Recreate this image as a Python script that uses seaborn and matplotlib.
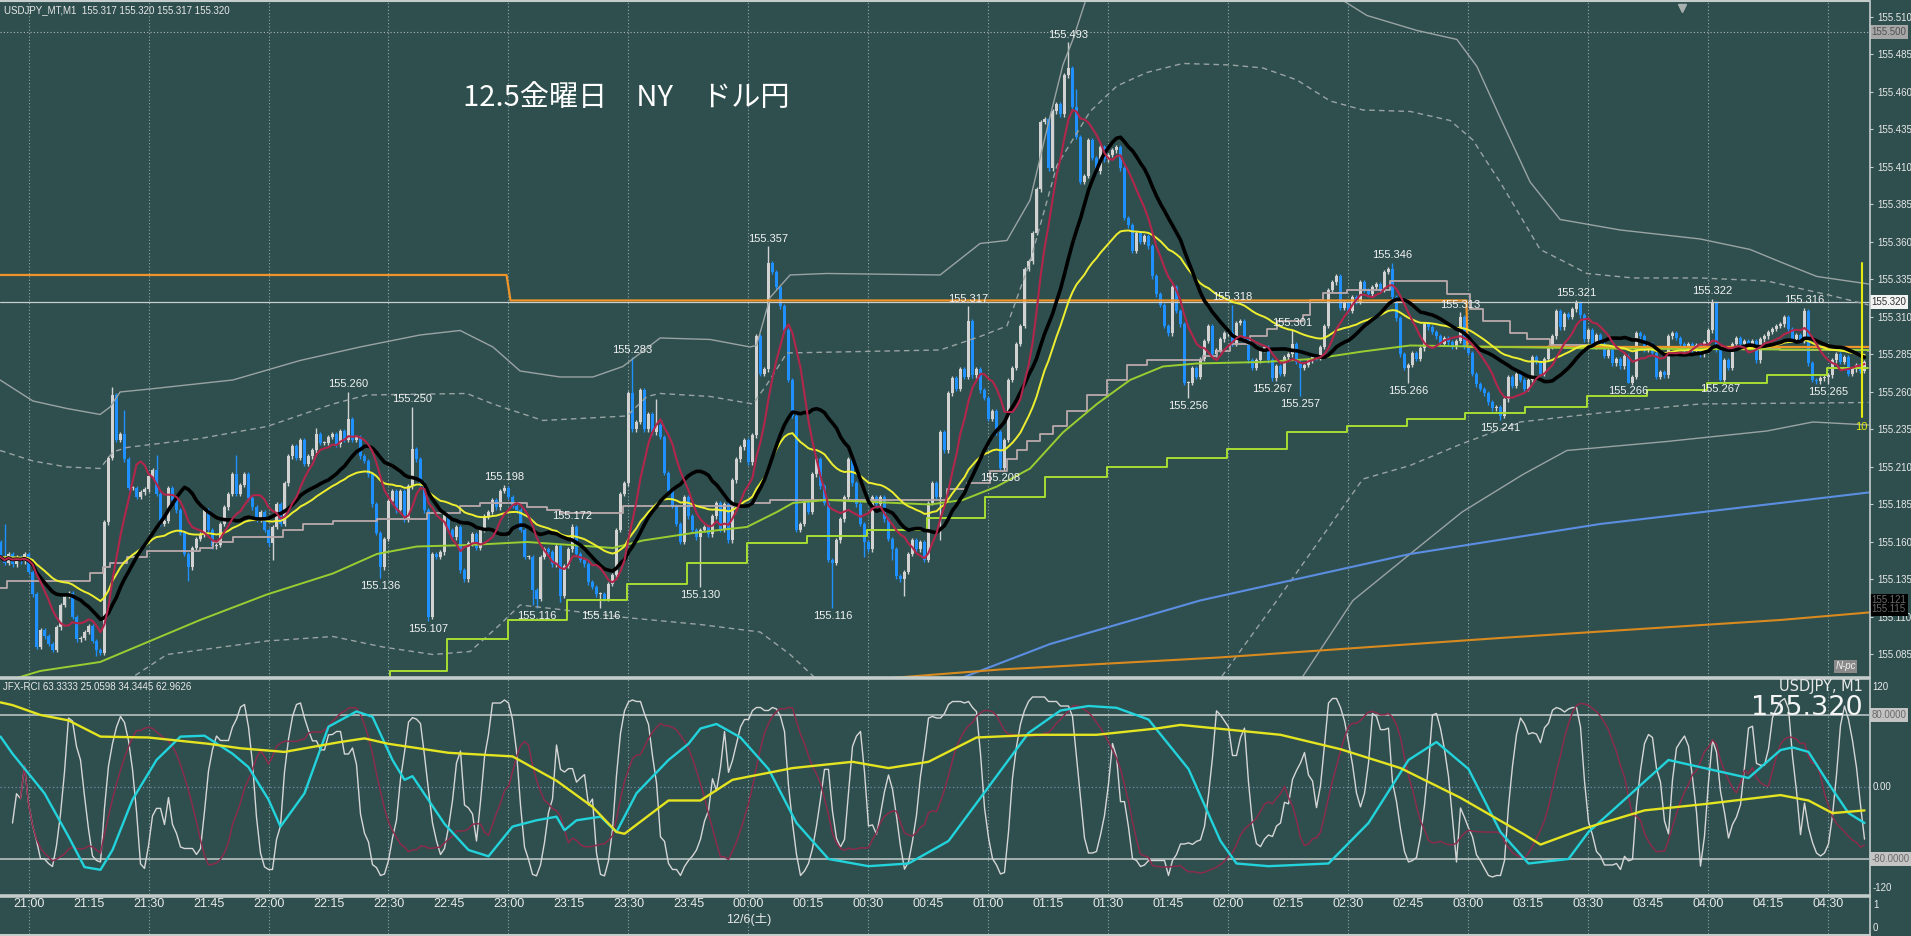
import numpy as np
import pandas as pd
import matplotlib
matplotlib.use("Agg")
import matplotlib.pyplot as plt
import matplotlib.transforms as mtransforms
from matplotlib.lines import Line2D
import seaborn as sns

# ------------------------------------------------------------------ data
# 1-minute bars, minute index relative to 21:00 (first bar 20:53)
first_minute = -7
first_open_k = 160
# closes in thousandths above 155.000
close_k = [
    150, 146, 152, 145, 150, 147, 152,
    140, 125, 90, 101, 97, 92, 88, 103, 118, 124,
    126, 110, 95, 96, 100, 104, 94, 88, 86, 173,
    216, 258, 228, 232, 215, 196, 196, 190, 193, 195,
    204, 208, 192, 172, 174, 196, 188, 181, 166, 152,
    143, 156, 162, 165, 181, 168, 157, 158, 172, 183,
    192, 205, 192, 198, 205, 189, 183, 175, 180, 168,
    159, 170, 185, 172, 199, 217, 224, 216, 228, 212,
    217, 221, 232, 226, 226, 230, 232, 225, 234, 228,
    242, 228, 230, 217, 214, 205, 185, 166, 143, 162,
    187, 194, 181, 194, 175, 197, 222, 215, 199, 181,
    110, 152, 150, 153, 178, 168, 163, 170, 141, 135,
    159, 165, 156, 168, 177, 180, 188, 183, 194, 196,
    190, 184, 181, 168, 150, 150, 128, 122, 150, 155,
    153, 145, 157, 124, 144, 155, 170, 152, 148, 145,
    133, 130, 125, 125, 122, 132, 138, 168, 192, 199,
    259, 235, 240, 261, 235, 245, 233, 238, 230, 206,
    194, 184, 172, 160, 190, 177, 168, 163, 168, 170,
    165, 177, 186, 168, 185, 161, 201, 215, 223, 228,
    213, 231, 297, 272, 275, 346, 340, 330, 317, 301,
    268, 244, 168, 172, 186, 180, 205, 215, 197, 186,
    148, 146, 161, 175, 190, 215, 199, 185, 172, 160,
    155, 190, 185, 190, 175, 162, 155, 137, 135, 140,
    152, 161, 155, 160, 148, 186, 199, 190, 233, 221,
    259, 269, 262, 275, 270, 307, 271, 275, 261, 256,
    242, 247, 233, 209, 228, 268, 276, 292, 304, 342,
    347, 366, 395, 440, 442, 409, 447, 452, 445, 471,
    476, 450, 430, 400, 404, 428, 416, 407, 423, 415,
    418, 421, 423, 409, 376, 371, 354, 366, 360, 364,
    357, 337, 325, 318, 304, 299, 330, 314, 305, 266,
    266, 276, 270, 282, 294, 304, 285, 288, 295, 299,
    300, 292, 306, 307, 295, 281, 276, 281, 288, 290,
    281, 269, 277, 272, 283, 285, 292, 280, 276, 278,
    281, 284, 283, 290, 304, 328, 333, 337, 316, 319,
    314, 323, 320, 333, 328, 325, 330, 332, 328, 340,
    342, 323, 309, 285, 276, 278, 286, 282, 289, 305,
    303, 300, 297, 292, 296, 293, 290, 294, 310, 290,
    286, 272, 265, 262, 259, 253, 249, 250, 244, 255,
    270, 264, 272, 268, 262, 268, 283, 280, 272, 282,
    290, 297, 314, 303, 312, 310, 315, 319, 311, 295,
    301, 290, 298, 292, 284, 288, 279, 282, 277, 284,
    266, 270, 299, 297, 288, 292, 286, 270, 273, 271,
    297, 299, 296, 292, 288, 292, 287, 291, 285, 293,
    301, 319, 288, 268, 281, 276, 292, 296, 292, 294,
    290, 294, 281, 295, 297, 300, 302, 304, 305, 310,
    302, 295, 298, 294, 314, 279, 268, 267, 269, 270,
    271, 281, 285, 280, 283, 272, 275, 278, 274, 280,
]
# labelled highs / lows (minute, thousandths, kind)
label_t = [80, 96, 88, 100, 119, 127, 136, 143, 151, 168, 185, 201, 235, 243, 260,
           290, 301, 311, 316, 318, 341, 345, 358, 368, 387, 400, 421, 423, 444, 450]
label_k = [260, 250, 136, 107, 198, 116, 172, 116, 283, 130, 357, 116, 317, 208, 493,
           256, 318, 267, 301, 257, 346, 266, 313, 241, 321, 266, 322, 267, 316, 265]
label_kind = ["H", "H", "L", "L", "H", "L", "H", "L", "H", "L", "H", "L", "H", "L", "H",
              "L", "H", "L", "H", "L", "H", "L", "H", "L", "H", "L", "H", "L", "H", "L"]
# other visible long wicks
extra_high = {-6: 172, 21: 263, 24: 248, 32: 218, 52: 218, 72: 236, 157: 255, 262: 462}
extra_low = {17: 84, 40: 134, 61: 148, 126: 118, 133: 120, 209: 150, 216: 148, 219: 124, 228: 161}

# Bollinger-style envelopes (minute, price)
bb_up_solid_t = [-7.1, 1.1, 9.6, 17.9, 20.4, 22.9, 30.4, 51.1, 67.9, 82.9, 97.9, 107.9, 116.1, 122.9,
                 132.9, 141.1, 148.6, 157.9, 170.4, 180.4, 182.0, 185.4, 190.4, 199.6, 227.9, 237.9,
                 244.6, 250.4, 254.6, 258.6, 261.1, 265.4, 325.4, 328.6, 334.6, 347.1, 357.1, 362.1,
                 367.9, 375.4, 382.9, 397.9, 417.9, 430.4, 438.6, 447.1, 460.0]
bb_up_solid_p = [155.268, 155.254, 155.249, 155.245, 155.250, 155.260, 155.262, 155.268, 155.281,
                 155.290, 155.298, 155.301, 155.290, 155.274, 155.270, 155.270, 155.277, 155.296,
                 155.295, 155.290, 155.291, 155.323, 155.338, 155.339, 155.338, 155.359, 155.361,
                 155.388, 155.435, 155.478, 155.495, 155.530, 155.530, 155.521, 155.511, 155.501,
                 155.495, 155.477, 155.443, 155.400, 155.375, 155.368, 155.362, 155.355, 155.346,
                 155.337, 155.332]
bb_up_dash_t = [-7.1, 1.1, 9.6, 17.9, 21.1, 24.6, 42.9, 59.6, 76.1, 84.6, 109.6, 116.1, 128.6, 149.6,
                154.6, 157.9, 170.4, 181.1, 184.6, 189.6, 227.9, 237.9, 244.6, 250.4, 257.1, 265.4,
                272.1, 279.6, 288.6, 300.4, 308.6, 317.1, 325.4, 333.6, 345.4, 355.4, 361.1, 365.4,
                367.9, 377.9, 384.6, 389.6, 401.1, 417.9, 434.6, 451.1, 460.0]
bb_up_dash_p = [155.221, 155.214, 155.210, 155.209, 155.220, 155.223, 155.229, 155.237, 155.252,
                155.258, 155.259, 155.252, 155.241, 155.244, 155.257, 155.259, 155.257, 155.252,
                155.265, 155.286, 155.288, 155.297, 155.304, 155.347, 155.411, 155.447, 155.464,
                155.473, 155.479, 155.478, 155.476, 155.468, 155.454, 155.448, 155.447, 155.441,
                155.428, 155.410, 155.400, 155.355, 155.346, 155.339, 155.336, 155.336, 155.334,
                155.324, 155.318]
bb_lo_dash_a_t = [17.9, 26.1, 34.6, 42.9, 59.6, 76.1, 88.6, 101.1, 110.4, 117.9, 122.9, 132.9,
                  147.9, 167.9, 182.9, 190.4, 200.4]
bb_lo_dash_a_p = [155.060, 155.070, 155.085, 155.088, 155.094, 155.097, 155.090, 155.085, 155.087,
                  155.105, 155.118, 155.115, 155.110, 155.105, 155.100, 155.085, 155.060]
bb_lo_dash_b_t = [295.5, 312.1, 333.6, 345.4, 357.9, 372.9, 392.9, 417.9, 460.0]
bb_lo_dash_b_p = [155.060, 155.121, 155.202, 155.211, 155.225, 155.240, 155.246, 155.252, 155.253]
bb_lo_solid_t = [316.0, 331.1, 345.4, 358.4, 373.6, 384.6, 409.6, 434.6, 446.1, 460.0]
bb_lo_solid_p = [155.060, 155.121, 155.152, 155.180, 155.205, 155.221, 155.227, 155.234, 155.240, 155.238]

# stepped base line (grey)
gray_step_t = [-7.1, -5.4, 15.4, 18.6, 20.4, 24.6, 29.6, 42.9, 46.1, 51.1, 63.6, 68.6, 76.1, 87.1,
               99.6, 107.9, 112.9, 124.6, 129.6, 132.9, 148.6, 180.4, 185.4, 229.6, 234.6, 240.4,
               244.6, 247.1, 249.6, 252.9, 256.1, 259.6, 264.6, 269.6, 274.6, 279.6, 293.6, 297.1,
               300.4, 305.4, 309.6, 312.1, 318.6, 320.4, 323.6, 329.6, 340.4, 354.6, 360.4, 363.6,
               370.4, 374.6, 380.4, 389.6, 417.9, 437.9, 460.0]
gray_step_p = [155.129, 155.134, 155.139, 155.143, 155.146, 155.150, 155.154, 155.156, 155.160,
               155.163, 155.168, 155.172, 155.174, 155.175, 155.179, 155.184, 155.186, 155.183,
               155.181, 155.179, 155.184, 155.186, 155.188, 155.195, 155.199, 155.207, 155.215,
               155.221, 155.227, 155.232, 155.237, 155.247, 155.258, 155.268, 155.278, 155.281,
               155.284, 155.287, 155.292, 155.297, 155.302, 155.307, 155.311, 155.321, 155.326,
               155.328, 155.334, 155.325, 155.315, 155.307, 155.299, 155.295, 155.291, 155.290,
               155.289, 155.288, 155.287]
# stepped support line (lime)
lime_step_t = [90.3, 90.4, 104.6, 119.9, 134.6, 149.6, 164.6, 179.6, 194.6, 209.6, 224.6, 239.1,
               254.1, 269.6, 284.6, 299.6, 314.6, 329.6, 344.6, 359.1, 374.1, 389.6, 404.6, 419.6,
               434.6, 449.6, 460.0]
lime_step_p = [155.050, 155.074, 155.095, 155.108, 155.121, 155.132, 155.146, 155.159, 155.164,
               155.168, 155.176, 155.190, 155.203, 155.210, 155.216, 155.222, 155.233, 155.237,
               155.242, 155.246, 155.250, 155.257, 155.261, 155.266, 155.271, 155.276, 155.276]
# slow moving averages
lime_ma_t = [-4.6, 2.9, 17.9, 30.4, 42.9, 59.6, 76.1, 87.1, 97.1, 110.4, 124.6, 141.1, 146.1, 153.6,
             166.1, 179.6, 187.1, 191.1, 199.6, 225.4, 233.6, 242.1, 250.4, 258.6, 267.1, 275.4,
             283.6, 292.1, 308.6, 321.1, 333.6, 345.4, 392.9, 460.0]
lime_ma_p = [155.068, 155.074, 155.080, 155.094, 155.108, 155.125, 155.139, 155.152, 155.157,
             155.158, 155.160, 155.157, 155.156, 155.161, 155.166, 155.170, 155.180, 155.186,
             155.188, 155.185, 155.188, 155.197, 155.209, 155.233, 155.252, 155.268, 155.277,
             155.279, 155.280, 155.282, 155.287, 155.291, 155.289, 155.288]
blue_ma_t = [230.0, 255.4, 292.9, 345.4, 392.9, 437.9, 460.0]
blue_ma_p = [155.066, 155.092, 155.121, 155.152, 155.172, 155.186, 155.193]
orange_ma_t = [214.0, 242.9, 297.6, 367.9, 437.9, 460.0]
orange_ma_p = [155.069, 155.075, 155.083, 155.096, 155.108, 155.113]
orange_level_t = [-7.1, 119.5, 120.5, 359.5, 359.7, 460.0]
orange_level_p = [155.338, 155.338, 155.321, 155.321, 155.290, 155.290]
current_price = 155.320
round_level = 155.500

# RCI panel: slow lines (minute, value)
rci_cyan_t = [-7, -4, 4, 10, 14, 18, 21, 26, 32, 38, 44, 51, 55, 60, 63, 69, 75, 82, 86, 91, 94,
              96, 104, 110, 115, 121, 127, 132, 134, 137, 143, 147, 152, 160, 165, 168, 172, 178,
              185, 192, 200, 210, 220, 230, 240, 250, 258, 265, 272, 280, 290, 298, 302, 310, 325,
              335, 345, 352, 360, 368, 375, 385, 390, 400, 410, 420, 430, 438, 441, 445, 450, 455, 459]
rci_cyan_v = [56, 37, -7, -55, -89, -92, -70, -14, 30, 56, 57, 37, 22, -14, -44, -7, 67, 84, 78, 30, 8,
              12, -41, -70, -77, -44, -37, -33, -48, -37, -33, -50, -7, 30, 48, 65, 70, 55,
              20, -40, -80, -88, -85, -60, 0, 60, 85, 90, 88, 75, 20, -60, -85, -88, -85,
              -40, 30, 50, 20, -50, -85, -80, -50, -10, 30, 20, 10, 41, 44, 39, 4, -29, -40]
rci_yellow_t = [-7, -4, 3, 10, 18, 30, 45, 53, 64, 78, 84, 90, 99, 105, 121, 132, 141, 147, 149, 160,
                168, 176, 191, 206, 215, 225, 237, 252, 267, 282, 288, 313, 328, 343, 358, 374, 378,
                389, 404, 419, 438, 445, 451, 459]
rci_yellow_v = [94, 91, 80, 74, 56, 55, 48, 43, 39, 50, 54, 48, 42, 38, 34, 7, -22, -50, -52, -15,
                -15, 8, 21, 28, 21, 28, 55, 58, 58, 65, 69, 58, 42, 21, -12, -53, -64,
                -46, -26, -19, -9, -15, -29, -26]

price_ticks = [155.085, 155.110, 155.135, 155.160, 155.185, 155.210, 155.235, 155.260, 155.285,
               155.310, 155.335, 155.360, 155.385, 155.410, 155.435, 155.460, 155.485, 155.510]
time_ticks = list(range(0, 451, 15))
time_labels = ["21:00", "21:15", "21:30", "21:45", "22:00", "22:15", "22:30", "22:45", "23:00",
               "23:15", "23:30", "23:45", "00:00", "00:15", "00:30", "00:45", "01:00", "01:15",
               "01:30", "01:45", "02:00", "02:15", "02:30", "02:45", "03:00", "03:15", "03:30",
               "03:45", "04:00", "04:15", "04:30"]
grid_ticks = list(range(0, 451, 30))

# ------------------------------------------------------------------ style
sns.set_theme(style="dark")
plt.rcParams["font.family"] = ["Liberation Sans", "Noto Sans CJK JP", "DejaVu Sans"]
W, H = 1911, 936
BG = "#2F4F4F"
FG = "#E8E8E8"
LINE_LIGHT = "#C4CCCC"
UP, DOWN = "#D2D2D2", "#1E90FF"

fig = plt.figure(figsize=(W / 100, H / 100), dpi=100, facecolor=BG)
XR = 1869
ax = fig.add_axes([0, 1 - 677 / H, XR / W, 677 / H])
axr = fig.add_axes([0, 1 - 894 / H, XR / W, (894 - 679) / H])
axb = fig.add_axes([0, 1 - 934 / H, XR / W, (934 - 897) / H])
for a in (ax, axr, axb):
    a.set_facecolor(BG)
    for s in a.spines.values():
        s.set_visible(False)
    a.set_xlim(-7.125, (XR - 28.5) / 4)
    a.set_xticks([])
    a.set_yticks([])
    a.grid(False)


def ftext(x, y, s, **kw):
    fig.text(x / W, 1 - y / H, s, **kw)


def fline(x0, x1, y0, y1, **kw):
    fig.add_artist(Line2D([x0 / W, x1 / W], [1 - y0 / H, 1 - y1 / H], transform=fig.transFigure, **kw))


def sline(a, t, v, color, lw, ls="-", z=4, ds=None):
    kw = {"drawstyle": ds} if ds else {}
    sns.lineplot(x=np.asarray(t, float), y=np.asarray(v, float), ax=a, color=color, linewidth=lw,
                 linestyle=ls, zorder=z, sort=False, estimator=None, **kw)


# ------------------------------------------------------------------ candles
n = len(close_k)
t = np.arange(first_minute, first_minute + n)
c = 155.0 + np.asarray(close_k) / 1000.0
o = np.r_[155.0 + first_open_k / 1000.0, c[:-1]]
WICK = 0.0015
hi = np.maximum(o, c) + WICK
lo = np.minimum(o, c) - WICK
for k, v in extra_high.items():
    hi[k - first_minute] = 155 + v / 1000
for k, v in extra_low.items():
    lo[k - first_minute] = 155 + v / 1000
for tt, v, kd in zip(label_t, label_k, label_kind):
    if kd == "H":
        hi[tt - first_minute] = 155 + v / 1000
    else:
        lo[tt - first_minute] = 155 + v / 1000

# vertical grid
for a in (ax, axr, axb):
    for g in grid_ticks:
        a.axvline(g, color="#8FA5A5", lw=0.8, ls=(0, (1, 2)), zorder=1)

ax.axhline(round_level, color="#AEB8B8", lw=0.8, ls=(0, (1, 2)), zorder=1)
ax.axhline(current_price, color="#C8CDCD", lw=0.9, zorder=3)

up = c >= o
body_lo = np.minimum(o, c)
body_h = np.maximum(np.abs(c - o), 0.0007)
for mask, col in ((up, UP), (~up, DOWN)):
    ax.vlines(t[mask], lo[mask], hi[mask], color=col, lw=1.0, zorder=2)
    ax.bar(t[mask], body_h[mask], bottom=body_lo[mask], width=0.75, color=col, linewidth=0, zorder=2)

# envelopes and levels
BBC = "#9AA3A3"
sline(ax, bb_up_solid_t, bb_up_solid_p, BBC, 1.0)
sline(ax, bb_lo_solid_t, bb_lo_solid_p, BBC, 1.0)
sline(ax, bb_up_dash_t, bb_up_dash_p, BBC, 1.0, ls=(0, (4, 3)))
sline(ax, bb_lo_dash_a_t, bb_lo_dash_a_p, BBC, 1.0, ls=(0, (4, 3)))
sline(ax, bb_lo_dash_b_t, bb_lo_dash_b_p, BBC, 1.0, ls=(0, (4, 3)))
sline(ax, gray_step_t, gray_step_p, "#BBA9AC", 1.3, ds="steps-post")
sline(ax, lime_step_t, lime_step_p, "#A8DC32", 1.4, ds="steps-post")
sline(ax, blue_ma_t, blue_ma_p, "#5B8EE0", 1.5)
sline(ax, orange_ma_t, orange_ma_p, "#D98A1E", 1.5)
sline(ax, orange_level_t, orange_level_p, "#EE9428", 1.6)
sline(ax, lime_ma_t, lime_ma_p, "#9ACD32", 1.4)

# moving averages computed from the closes
cs = pd.Series(c)
sline(ax, t, cs.ewm(span=40, adjust=False).mean(), "#EEEE30", 1.4, z=5)
sline(ax, t, cs.rolling(21, min_periods=1).mean(), "#000000", 2.6, z=6)
sline(ax, t, cs.rolling(9, min_periods=1).mean(), "#B2264C", 1.5, z=7)

# high / low labels
for tt, v, kd in zip(label_t, label_k, label_kind):
    ax.annotate(f"155.{v:03d}", (tt, 155 + v / 1000), xytext=(0, 2 if kd == "H" else -2),
                textcoords="offset points", ha="center", va="bottom" if kd == "H" else "top",
                color="#F2F2F2", fontsize=8, zorder=8)

# countdown marker
ax.plot([458.3, 458.3], [155.243, 155.346], color="#E4EA10", lw=1.5, zorder=8)
ax.text(458.3, 155.240, "10", color="#E4EA10", fontsize=8, ha="center", va="top", zorder=8)
ax.plot([413.4], [155.516], marker="v", color="#A8B0B0", markersize=6, clip_on=False, zorder=8)

ax.set_ylim(155.070, 155.5213)
ax.yaxis.tick_right()
ax.set_yticks(price_ticks)
ax.set_yticklabels([f"{p:.3f}" for p in price_ticks])
ax.tick_params(axis="y", colors=LINE_LIGHT, labelcolor=FG, labelsize=7, length=3, width=0.8, pad=3)

bt = mtransforms.blended_transform_factory(ax.transAxes, ax.transData)
for val, fc, tc in ((155.500, "#A6A6A6", "#505050"), (current_price, "#F4F4F4", "#303030"),
                    (155.121, "#000000", "#6A6A6A"), (155.115, "#000000", "#6A6A6A")):
    ax.text(1.0015, val, f"{val:.3f}", transform=bt, ha="left", va="center", fontsize=7, color=tc,
            bbox=dict(boxstyle="square,pad=0.18", fc=fc, ec="none"), clip_on=False, zorder=9)
ax.text(0.993, 155.077, "N-pc", transform=bt, ha="right", va="center", fontsize=7, color="#F0F0F0",
        style="italic", bbox=dict(boxstyle="square,pad=0.12", fc="#8A8A8A", ec="none"), zorder=9)


# ------------------------------------------------------------------ RCI panel
def rci(values, period, min_len):
    out = np.full(len(values), np.nan)
    for i in range(len(values)):
        m = min(period, i + 1)
        if m < min_len:
            continue
        w = pd.Series(values[i - m + 1:i + 1])
        time_rank = np.arange(m, 0, -1, dtype=float)
        price_rank = w.rank(ascending=False).to_numpy()
        d = time_rank - price_rank
        out[i] = (1 - 6 * np.sum(d ** 2) / (m * (m * m - 1))) * 100
    return out


axr.axhline(80, color=LINE_LIGHT, lw=1.1, zorder=1)
axr.axhline(-80, color=LINE_LIGHT, lw=1.1, zorder=1)
axr.axhline(0, color="#6C8EB4", lw=0.9, ls=(0, (1, 2)), zorder=1)
sline(axr, t, rci(c, 9, 4), "#D6D6D6", 1.0, z=3)
sline(axr, t, rci(c, 26, 6), "#8A2C4C", 1.1, z=4)
sline(axr, rci_cyan_t, rci_cyan_v, "#22D3DB", 1.7, z=5)
sline(axr, rci_yellow_t, rci_yellow_v, "#E4E420", 1.7, z=6)
axr.set_ylim(-118.9, 120)
rt = mtransforms.blended_transform_factory(axr.transAxes, axr.transData)
axr.text(1.002, 111, "120", transform=rt, ha="left", va="center", fontsize=7, color=FG, clip_on=False)
axr.text(1.002, 0, "0.00", transform=rt, ha="left", va="center", fontsize=7, color=FG, clip_on=False)
axr.text(1.002, -112, "-120", transform=rt, ha="left", va="center", fontsize=7, color=FG, clip_on=False)
for val, s in ((80, "80.0000"), (-80, "-80.0000")):
    axr.text(1.0015, val, s, transform=rt, ha="left", va="center", fontsize=7, color="#6A6A6A",
             bbox=dict(boxstyle="square,pad=0.18", fc="#C4C4C4", ec="none"), clip_on=False)

# ------------------------------------------------------------------ time axis
bx = mtransforms.blended_transform_factory(axb.transData, axb.transAxes)
for tt, lab in zip(time_ticks, time_labels):
    axb.text(tt, 0.82, lab, transform=bx, ha="center", va="center", fontsize=9, color=FG)
axb.text(180, 0.38, "12/6(土)", transform=bx, ha="center", va="center", fontsize=9, color=FG,
         family=["Liberation Sans", "Noto Sans CJK JP"])
ftext(1873, 905, "1", fontsize=7, color=FG, va="center")
ftext(1873, 928, "0", fontsize=7, color=FG, va="center")

# ------------------------------------------------------------------ frame lines and texts
fline(0, XR, 0.8, 0.8, color=LINE_LIGHT, lw=1.5)
fline(0, XR, 678, 678, color=LINE_LIGHT, lw=2.6)
fline(0, XR, 895.5, 895.5, color=LINE_LIGHT, lw=2.6)
fline(0, XR, 934.5, 934.5, color=LINE_LIGHT, lw=2.2)
fline(XR + 0.5, XR + 0.5, 0, 936, color=LINE_LIGHT, lw=1.2)

ftext(4, 10, "USDJPY_MT,M1  155.317 155.320 155.317 155.320", fontsize=7, color=FG, va="center")
ftext(3, 687, "JFX-RCI 63.3333 25.0598 34.3445 62.9626", fontsize=7, color=FG, va="center")
ftext(1863, 687, "USDJPY, M1", fontsize=10.5, color=FG, va="center", ha="right",
      family=["DejaVu Sans"])
ftext(1863, 708, "155.320", fontsize=19.5, color="#F4F4F4", va="center", ha="right",
      family=["DejaVu Sans"])
ftext(463, 98, "12.5金曜日\u3000NY\u3000ドル円", fontsize=21, color="#FFFFFF", va="center", ha="left",
      family=["Noto Sans CJK JP", "DejaVu Sans"])

fig.savefig("out.png", dpi=100, facecolor=BG)
